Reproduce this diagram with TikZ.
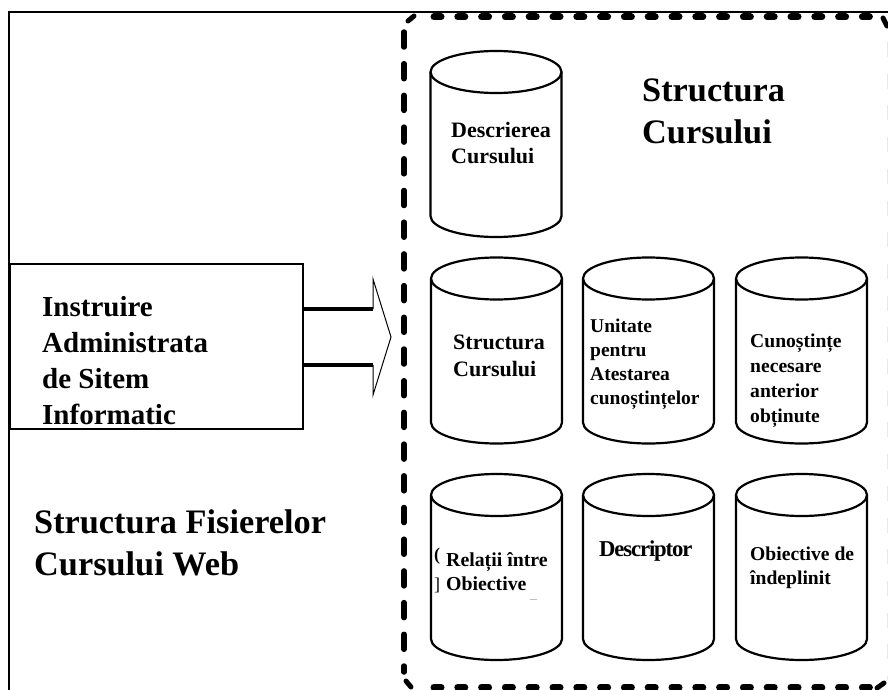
\documentclass[tikz,border=0pt]{standalone}
\usepackage{fontspec}
\setmainfont{Liberation Serif}
\newfontfamily\tightfont[LetterSpace=-5]{Liberation Serif}
\usetikzlibrary{positioning}
\tikzset{
        drum/.pic={ % one database drum, centred on its middle
                \draw[line width=2.2pt,line join=round] (-65.5,-72) -- (-65.5,72)
                        arc[start angle=180,end angle=0,x radius=65.5,y radius=21] -- (65.5,-72);
                \draw[line width=2.2pt] (0,-72) ellipse[x radius=65.5,y radius=21];
        },
        label/.style={inner sep=0pt,anchor=base west,align=left,font=\bfseries},
        dashv/.style={line width=5.5pt,line cap=round,dash pattern=on 15pt off 16.7pt},
        dashh/.style={line width=7pt,line cap=round,dash pattern=on 7pt off 16.8pt},
        corner/.style={line width=5pt,line cap=round},
        shaft/.style={line width=3.6pt},
}
\newcommand{\fs}[2]{\fontsize{#1}{#2}\selectfont}

\begin{document}
\begin{tikzpicture}[x=1pt,y=-1pt]
\useasboundingbox (0,0) rectangle (888,690);
\fill[white] (0,0) rectangle (888,690);

% outer frame, only top and left are visible
\draw[line width=2.4pt] (9,690) -- (9,12) -- (888,12);

% dashed frame
\draw[dashv] (404,32) -- (404,672);
\draw[dashh] (434,17) -- (876,17);
\draw[dashh] (434,687) -- (876,687);
\draw[gray!18,line width=2pt,dash pattern=on 15pt off 16.7pt] (888,42) -- (888,680);
\draw[corner] (408,21) -- (414,16);
\draw[corner] (883,18) -- (887,26);
\draw[corner] (406,681) -- (411,687);
\draw[corner] (877,688) -- (884,683);

% the drums
\foreach \name/\x/\y in {descr/496/144,
                         struct/496.5/350.5,unit/648.5/350.5,cunos/801.5/350.5,
                         relat/496.5/567,descp/648.5/567,obiec/801.5/567}
  \pic (\name) at (\x,\y) {drum};

% left box and the hollow arrow
\node[draw,line width=1.3pt,minimum width=293pt,minimum height=165pt,inner sep=0pt] (instr) at (156.5,346.5) {};
\coordinate (shafta) at (instr.east |- 0,309);
\coordinate (shaftb) at (instr.east |- 0,365);
\coordinate (heada) at (373,279);
\coordinate (headb) at (373,395);
\coordinate (tip) at (391,337);
\draw[shaft] (shafta) -- (heada |- shafta);
\draw[shaft] (shaftb) -- (headb |- shaftb);
\draw[line width=1pt] (heada |- shafta) -- (heada) -- (tip) -- (headb) -- (headb |- shaftb);

% texts
\node[label,font=\bfseries\fs{29}{36}] (instrtext) at (42,424) {Instruire\\Administrata\\de Sitem\\Informatic};
\node[label,font=\bfseries\fs{34.3}{42}] (title) at (34,575) {Structura Fisierelor\\Cursului Web};
\node[label,font=\bfseries\fs{34.3}{42}] (coursetitle) at (642,143) {Structura\\Cursului};
\node[label,font=\bfseries\fs{22}{26}] (descrtext) at (451,163) {Descrierea\\Cursului};
\node[label,font=\bfseries\fs{22}{27}] (structtext) at (453,376) {Structura\\Cursului};
\node[label,font=\bfseries\fs{19.5}{24}] (unittext) at (590,404) {Unitate\\pentru\\Atestarea\\cunoștințelor};
\node[label,font=\bfseries\fs{19.6}{24.7}] (cunostext) at (750,422) {Cunoștințe\\necesare\\anterior\\obținute};
\node[label,font=\bfseries\fs{19.8}{24}] (relattext) at (446,590) {Relații între\\Obiective};
\node[label,font=\bfseries\tightfont\fs{22.7}{28}] (descptext) at (599,556) {Descriptor};
\node[label,font=\bfseries\fs{19.6}{24}] (obiectext) at (750,584) {Obiective de\\îndeplinit};

% leftovers inside the Relatii drum
\node[label,font=\bfseries\fs{18}{20}] (leftc) at (434,560) {(};
\node[label,font=\fs{18}{20}] (leftb) at (434,590) {]};
\draw[gray!50,line width=0.8pt] (530,599) -- (537,599);
\end{tikzpicture}
\end{document}
